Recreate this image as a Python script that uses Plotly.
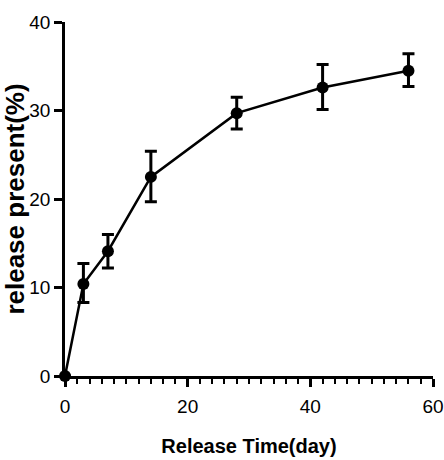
import plotly.graph_objects as go

days = [0, 3, 7, 14, 28, 42, 56]
release = [0, 10.4, 14.1, 22.5, 29.7, 32.6, 34.5]
err_plus = [0, 2.3, 1.9, 2.9, 1.8, 2.6, 1.9]
err_minus = [0, 2.1, 1.9, 2.8, 1.8, 2.5, 1.8]

x_ticks = [0, 20, 40, 60]
y_ticks = [0, 10, 20, 30, 40]

fig = go.Figure()
fig.add_trace(go.Scatter(
    x=days, y=release, mode="lines+markers",
    line=dict(color="black", width=2.5),
    marker=dict(color="black", size=12, symbol="circle"),
    error_y=dict(type="data", symmetric=False, array=err_plus, arrayminus=err_minus,
                 color="black", thickness=3, width=6),
    cliponaxis=False, showlegend=False,
))

tickfont = dict(family="Liberation Sans, Arial", size=19, color="black")
fig.update_layout(
    width=444, height=460,
    margin=dict(l=61, r=11, t=22, b=84),
    plot_bgcolor="white", paper_bgcolor="white",
    xaxis=dict(range=[0, 60], tickvals=x_ticks, showgrid=False, zeroline=False,
               showline=True, linecolor="black", linewidth=2.5,
               ticks="outside", ticklen=8, tickwidth=2.5, tickcolor="black",
               minor=dict(dtick=2, tick0=0, ticks="outside", ticklen=5, tickwidth=2, tickcolor="black"),
               tickfont=tickfont, ticklabeloverflow="allow", automargin=False,
               ticklabelstandoff=3,
               title=dict(text="<b>Release Time(day)</b>", standoff=24,
                          font=dict(family="Liberation Sans, Arial", size=20, color="black"))),
    yaxis=dict(range=[0, 40], tickvals=y_ticks, showgrid=False, zeroline=False,
               showline=True, linecolor="black", linewidth=2.5,
               ticks="outside", ticklen=8, tickwidth=2.5, tickcolor="black",
               tickfont=tickfont, automargin=True, ticklabelstandoff=0,
               title=dict(text="<b>release present(%)</b>", standoff=0,
                          font=dict(family="Liberation Sans, Arial", size=26, color="black"))),
)
fig.update_xaxes(tickprefix="<b>", ticksuffix="</b>")
fig.update_yaxes(tickprefix="<b>", ticksuffix="</b>")
fig.write_html("out.html")
